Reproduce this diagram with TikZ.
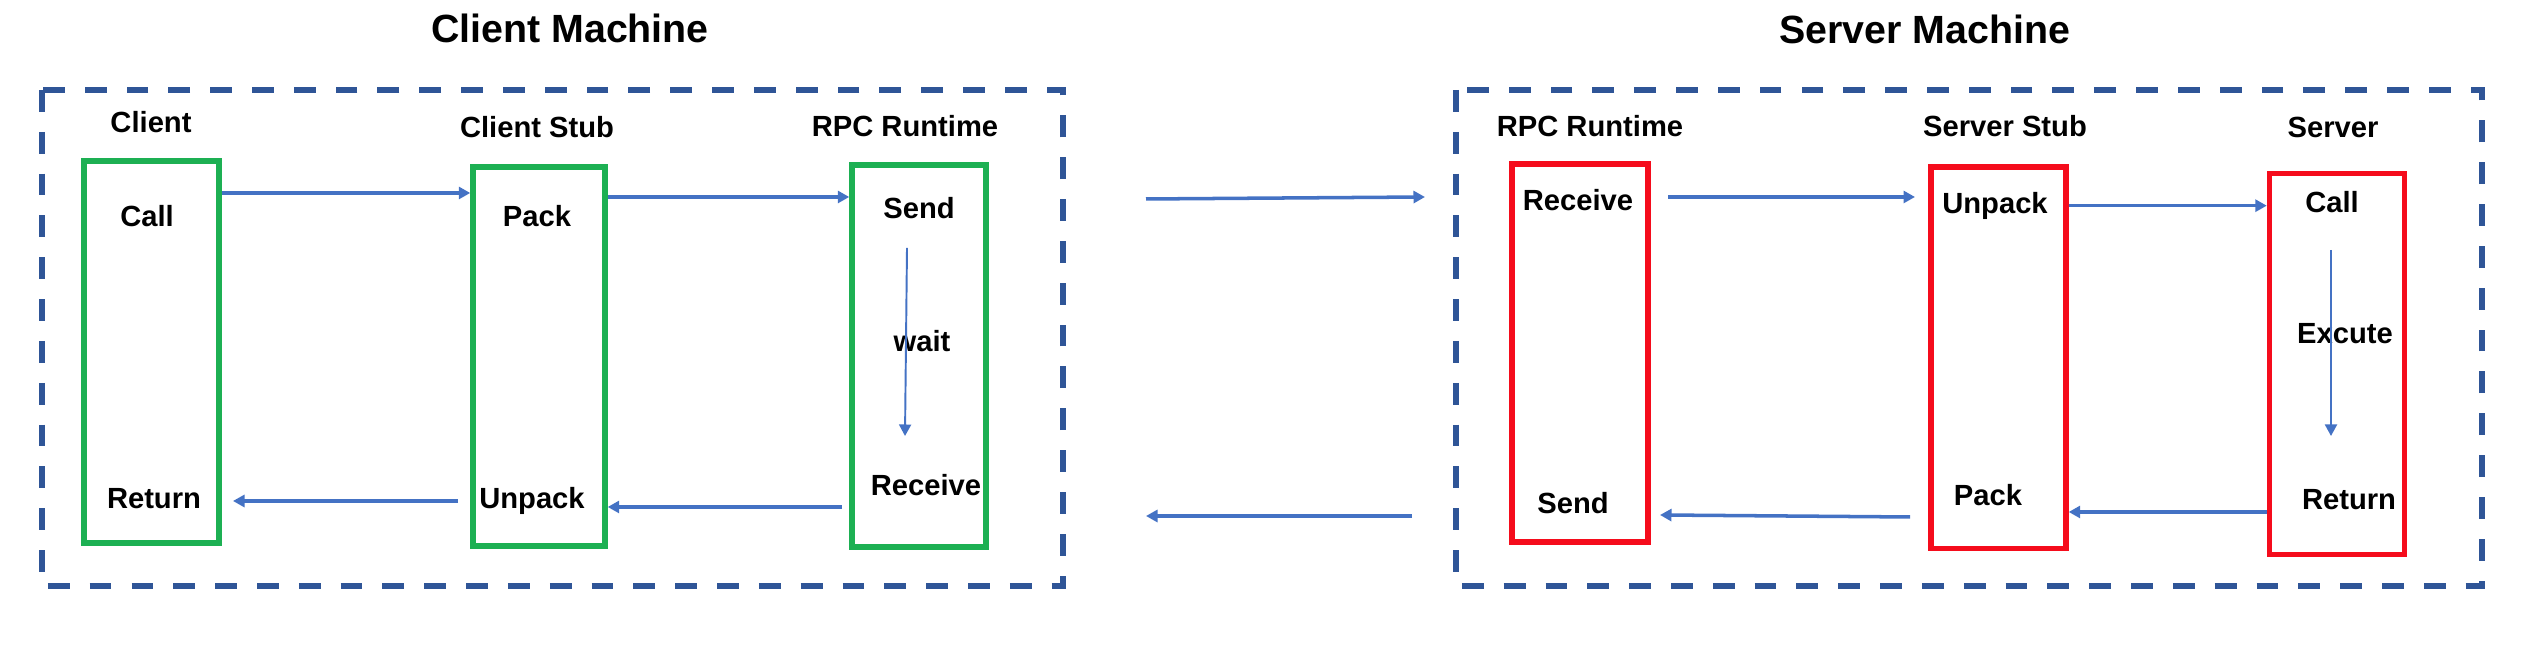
\documentclass[tikz,border=0pt]{standalone}
\usepackage{fontspec}
\setmainfont{Liberation Sans}
\usetikzlibrary{arrows.meta}

\definecolor{boxgreen}{RGB}{29,176,83}
\definecolor{boxred}{RGB}{245,12,28}
\definecolor{flowblue}{RGB}{68,114,196}
\definecolor{frameblue}{RGB}{47,85,151}

\begin{document}
\begin{tikzpicture}[
    >={Triangle[length=1.15mm,width=1.2mm]},
    green box/.style={draw=boxgreen, line width=1.55pt, inner sep=0pt},
    red box/.style={draw=boxred, line width=1.55pt, inner sep=0pt},
    frame/.style={draw=frameblue, line width=1.45pt, dash pattern=on 6.2pt off 5.7pt},
    flow/.style={->, draw=flowblue, line width=1pt},
    thin flow/.style={->, draw=flowblue, line width=0.55pt},
    lbl/.style={font=\fontsize{8.3}{10}\selectfont\bfseries, anchor=base, inner sep=0pt},
    title/.style={font=\fontsize{11.2}{13}\selectfont\bfseries, anchor=base, inner sep=0pt}
]
\useasboundingbox (0,0) rectangle (25.36,-6.48);

% Titles
\node[title] (ctitle) at (5.70,-0.43) {Client Machine};
\node[title] (stitle) at (19.25,-0.44) {Server Machine};

% Machine frames
\draw[frame] (0.42,-0.90) rectangle (10.63,-5.86);
\draw[frame] (14.56,-0.90) rectangle (24.82,-5.86);

% --- Client side ---
\node[green box, minimum width=1.35cm, minimum height=3.82cm] (cli)   at (1.515,-3.52) {};
\node[green box, minimum width=1.32cm, minimum height=3.79cm] (cstub) at (5.39,-3.565) {};
\node[green box, minimum width=1.34cm, minimum height=3.82cm] (crt)   at (9.19,-3.56) {};

\node[lbl] (lcli)   at (1.51,-1.33) {Client};
\node[lbl] (lcstub) at (5.37,-1.38) {Client Stub};
\node[lbl] (lcrt)   at (9.05,-1.37) {RPC Runtime};

\node[lbl] (ccall)   at (1.47,-2.27) {Call};
\node[lbl] (cret)    at (1.54,-5.09) {Return};
\node[lbl] (cpack)   at (5.37,-2.27) {Pack};
\node[lbl] (cunpack) at (5.32,-5.09) {Unpack};
\node[lbl] (csend)   at (9.19,-2.19) {Send};
\node[lbl] (cwait)   at (9.22,-3.52) {wait};
\node[lbl] (crecv)   at (9.26,-4.96) {Receive};

% --- Server side ---
\node[red box, minimum width=1.36cm, minimum height=3.78cm] (srt)   at (15.80,-3.53) {};
\node[red box, minimum width=1.35cm, minimum height=3.815cm] (sstub) at (19.985,-3.578) {};
\node[red box, minimum width=1.35cm, minimum height=3.81cm] (srv)   at (23.37,-3.64) {};

\node[lbl] (lsrt)   at (15.90,-1.37) {RPC Runtime};
\node[lbl] (lsstub) at (20.05,-1.37) {Server Stub};
\node[lbl] (lsrv)   at (23.33,-1.38) {Server};

\node[lbl] (srecv)   at (15.78,-2.11) {Receive};
\node[lbl] (ssend)   at (15.73,-5.14) {Send};
\node[lbl] (sunpack) at (19.95,-2.14) {Unpack};
\node[lbl] (spack)   at (19.88,-5.06) {Pack};
\node[lbl] (scall)   at (23.32,-2.13) {Call};
\node[lbl] (sexec)   at (23.45,-3.44) {Excute};
\node[lbl] (sret)    at (23.49,-5.10) {Return};

% Arrow levels and free ends
\coordinate (y1) at (0,-1.93);
\coordinate (y2) at (0,-1.97);
\coordinate (y9) at (0,-2.057);
\coordinate (y11) at (0,-5.12);
\coordinate (w1) at (9.07,-2.48);  \coordinate (w2) at (9.05,-4.36);
\coordinate (r1) at (8.42,-5.07);
\coordinate (u1) at (4.58,-5.01);  \coordinate (u2) at (2.33,-5.01);
\coordinate (m1) at (11.46,-1.99); \coordinate (m2) at (14.25,-1.97);
\coordinate (m3) at (14.12,-5.16); \coordinate (m4) at (11.46,-5.16);
\coordinate (s1) at (16.68,-1.97); \coordinate (s2) at (19.15,-1.97);
\coordinate (e1) at (23.31,-2.50); \coordinate (e2) at (23.31,-4.36);
\coordinate (p1) at (19.10,-5.17); \coordinate (p2) at (16.60,-5.15);

% Client flow
\draw[flow] (cli.east |- y1) -- (cstub.west |- y1);
\draw[flow] (cstub.east |- y2) -- (crt.west |- y2);
\draw[thin flow] (w1) -- (w2);
\draw[flow] (r1) -- (cstub.east |- r1);
\draw[flow] (u1) -- (u2);

% Between machines
\draw[flow] (m1) -- (m2);
\draw[flow] (m3) -- (m4);

% Server flow
\draw[flow] (s1) -- (s2);
\draw[flow] (sstub.east |- y9) -- (srv.west |- y9);
\draw[thin flow] (e1) -- (e2);
\draw[flow] (srv.west |- y11) -- (sstub.east |- y11);
\draw[flow] (p1) -- (p2);

\end{tikzpicture}
\end{document}
